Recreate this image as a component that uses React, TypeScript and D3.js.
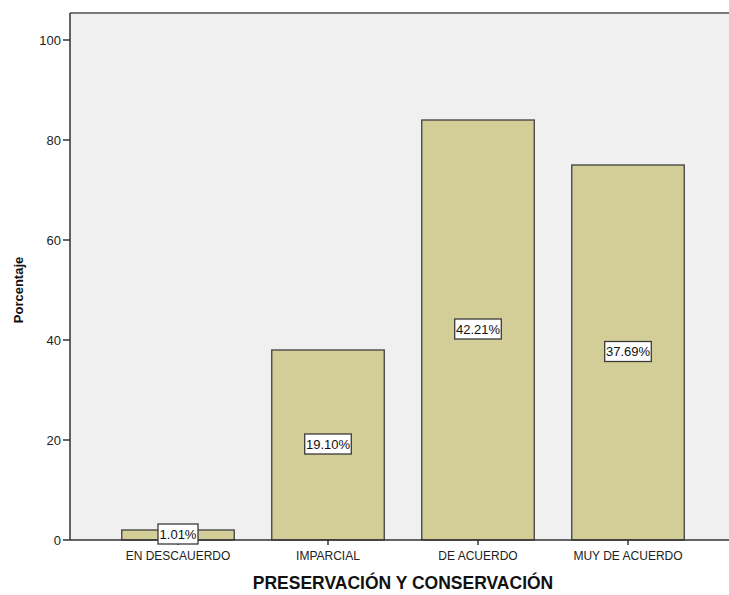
import React from "react";
import * as d3 from "d3";

const categories = ["EN DESCAUERDO", "IMPARCIAL", "DE ACUERDO", "MUY DE ACUERDO"];
const counts = [2, 38, 84, 75];
const percentLabels = ["1.01%", "19.10%", "42.21%", "37.69%"];
const yTicks = [0, 20, 40, 60, 80, 100];
const xTitle = "PRESERVACIÓN Y CONSERVACIÓN";
const yTitle = "Porcentaje";

const W = 729;
const H = 595;
const left = 70;
const right = 729;
const bottom = 540;
const FONT = "Arial, 'Liberation Sans', sans-serif";

export default function App() {
  const y = d3.scaleLinear().domain([0, 100]).range([bottom, 40]);
  const top = y(105.4);
  const x = d3
    .scaleBand<string>()
    .domain(categories)
    .range([103, 703])
    .paddingInner(0.25)
    .paddingOuter(0.125);

  const textW = (s: string) => s.length * 6.6 + 1;

  return (
    <svg
      width={W}
      height={H}
      style={{ position: "absolute", left: 0, top: 0, background: "#ffffff" }}
      fontFamily={FONT}
    >
      <rect x={left} y={top} width={right - left} height={bottom - top} fill="#f0f0f0" />
      <line x1={left} x2={right} y1={top} y2={top} stroke="#7a7a7a" strokeWidth={2} />

      {categories.map((c, i) => {
        const bx = x(c)!;
        const by = y(counts[i]);
        return (
          <rect
            key={c}
            x={bx}
            y={by}
            width={x.bandwidth()}
            height={bottom - by}
            fill="#d3ce97"
            stroke="#3f3f3f"
            strokeWidth={1.3}
          />
        );
      })}

      <line x1={left} x2={left} y1={top} y2={bottom} stroke="#333" strokeWidth={1.5} />
      <line x1={left} x2={right} y1={bottom} y2={bottom} stroke="#333" strokeWidth={1.5} />

      {yTicks.map((t) => (
        <g key={t}>
          <line x1={left - 7} x2={left} y1={y(t)} y2={y(t)} stroke="#333" strokeWidth={1.5} />
          <text x={61} y={y(t)} dy="0.35em" textAnchor="end" fontSize={13} fill="#222">
            {t}
          </text>
        </g>
      ))}

      {categories.map((c) => {
        const cx = x(c)! + x.bandwidth() / 2;
        return (
          <g key={c}>
            <line x1={cx} x2={cx} y1={bottom} y2={bottom + 5} stroke="#333" strokeWidth={1.5} />
            <text x={cx} y={560} textAnchor="middle" fontSize={12} fill="#222">
              {c}
            </text>
          </g>
        );
      })}

      {categories.map((c, i) => {
        const cx = x(c)! + x.bandwidth() / 2;
        const cy = (y(counts[i]) + bottom) / 2 - 1;
        const s = percentLabels[i];
        const bw = textW(s) + 6;
        const bh = 20;
        return (
          <g key={"l" + c}>
            <rect
              x={cx - bw / 2}
              y={cy - bh / 2}
              width={bw}
              height={bh}
              fill="#ffffff"
              stroke="#3a3a3a"
              strokeWidth={1.3}
            />
            <text x={cx} y={cy} dy="0.36em" textAnchor="middle" fontSize={13} fill="#111">
              {s}
            </text>
          </g>
        );
      })}

      <text
        x={403}
        y={589}
        textAnchor="middle"
        fontSize={17.5}
        fontWeight="bold"
        fill="#111"
      >
        {xTitle}
      </text>
      <text
        transform={`translate(23,290) rotate(-90)`}
        textAnchor="middle"
        fontSize={13}
        fontWeight="bold"
        fill="#111"
      >
        {yTitle}
      </text>
    </svg>
  );
}
